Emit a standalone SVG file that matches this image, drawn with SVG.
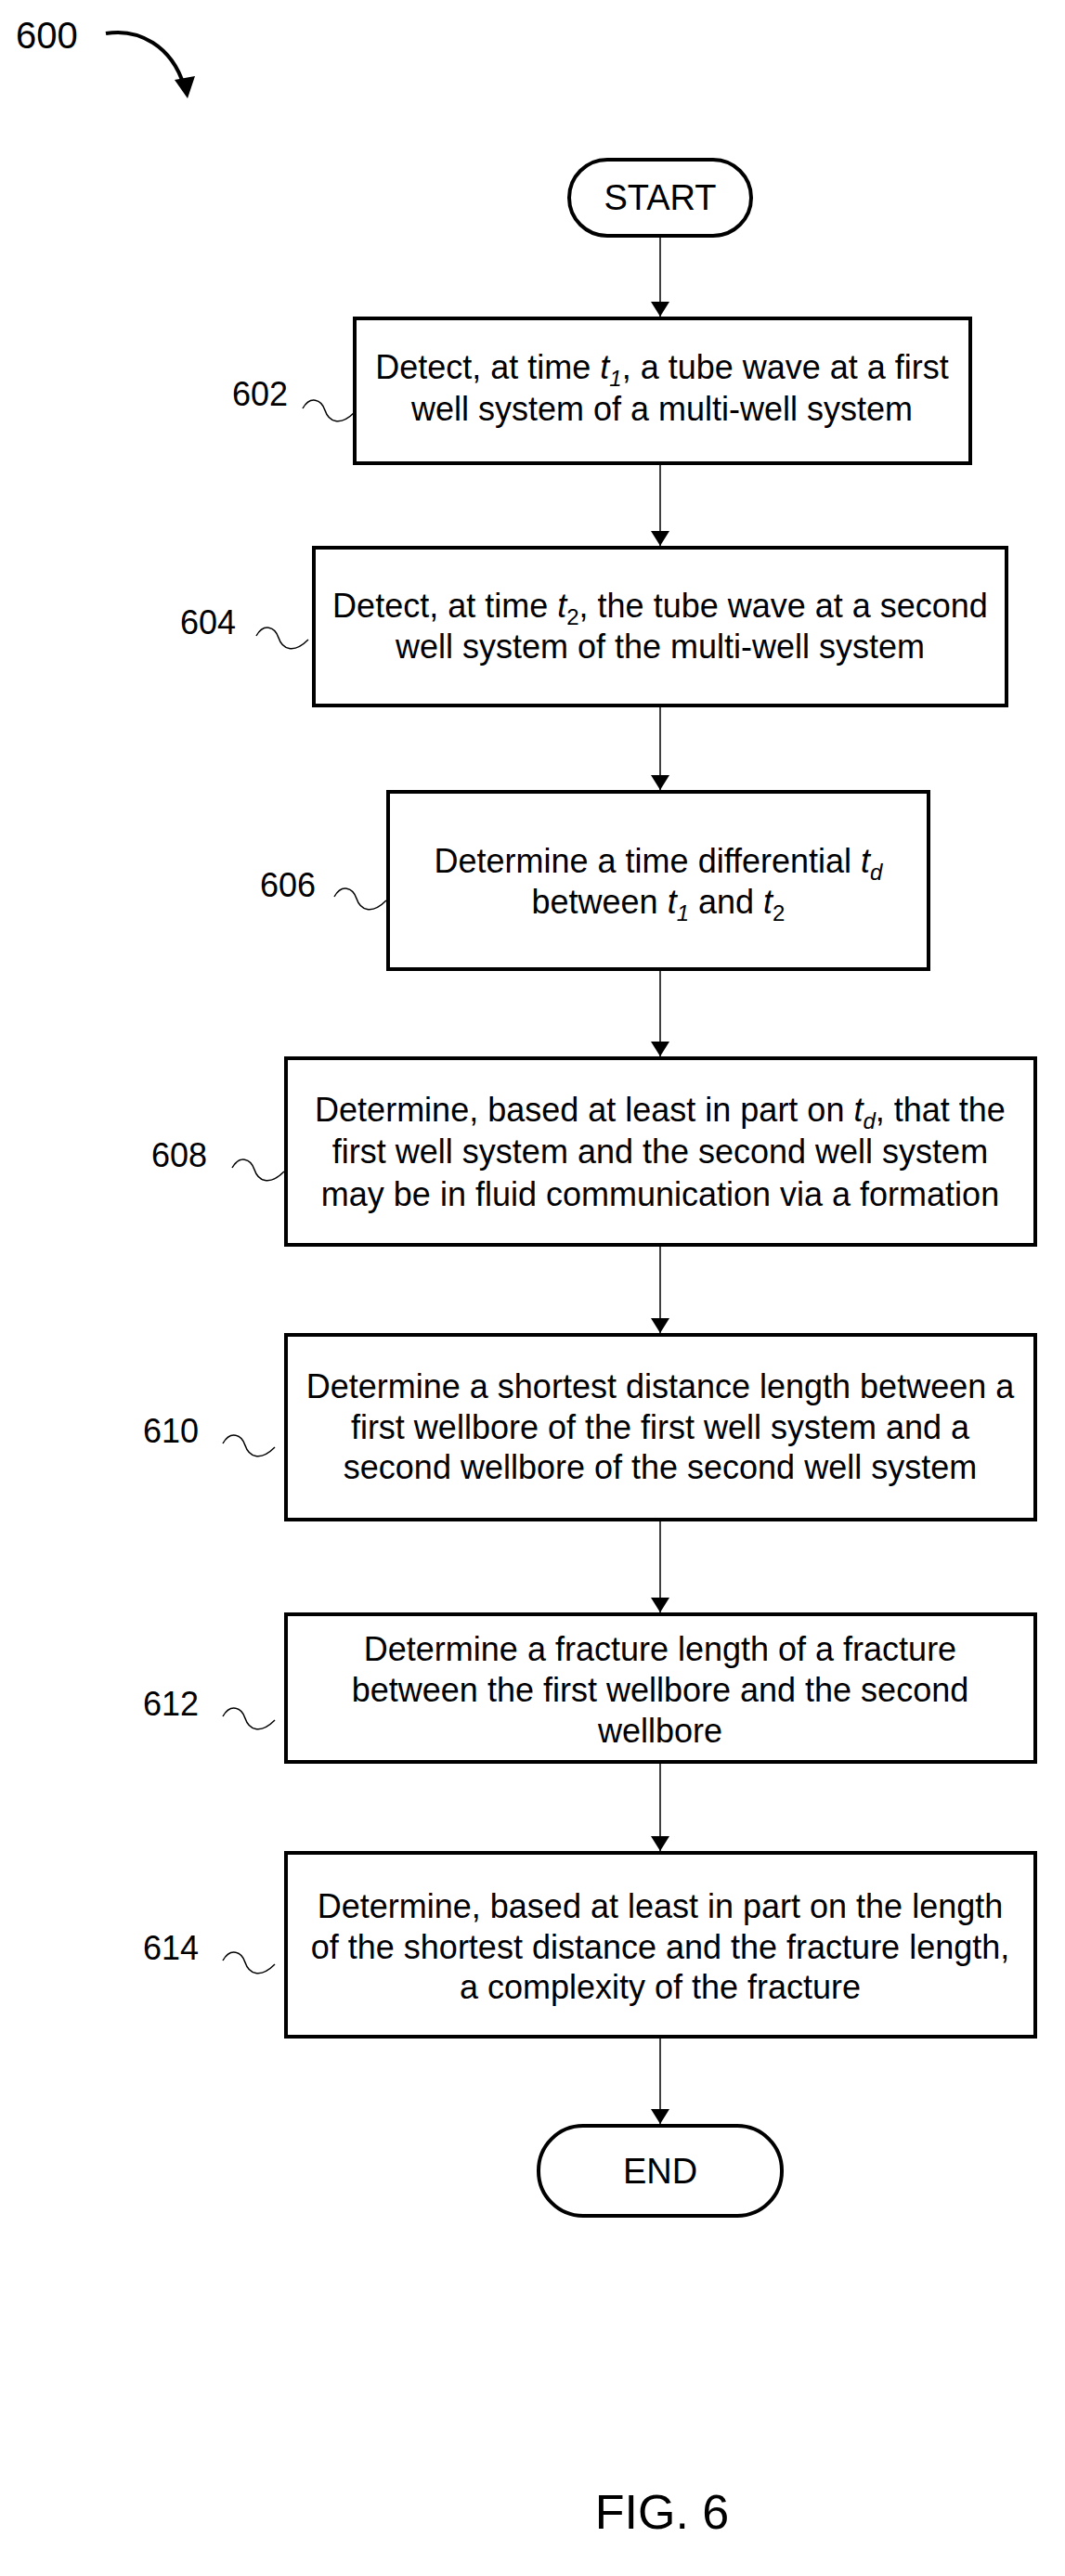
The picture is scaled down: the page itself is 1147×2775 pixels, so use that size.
<svg xmlns="http://www.w3.org/2000/svg" width="1147" height="2775" viewBox="0 0 1147 2775">
<style>
text{font-family:"Liberation Sans",Arial,sans-serif;fill:#000}
.t{font-size:36px;text-anchor:middle}
.lab{font-size:36px}
.box{fill:#fff;stroke:#000;stroke-width:4}
.sq{fill:none;stroke:#000;stroke-width:1.5}
.c{stroke:#000;stroke-width:1.5;fill:none;marker-end:url(#ah)}
.i{font-style:italic}
.s{font-size:24px}
</style>
<defs>
<marker id="ah" markerWidth="16" markerHeight="20" refX="16" refY="10" orient="auto" markerUnits="userSpaceOnUse"><path d="M0,0 L16,10 L0,20 Z" fill="#000"/></marker>
<path id="squig" d="M0,0 C8,-14 20,-10 24,2 S40,20 56,4"/>
</defs>
<g id="fig-label">
<text x="17" y="52" style="font-size:40px">600</text>
<path d="M114,36 C150,30 185,50 198,92" fill="none" stroke="#000" stroke-width="4"/>
<path d="M188,86 L202,106 L210,82 Z" fill="#000"/>
</g>
<g id="connectors">
<line class="c" x1="711" y1="254" x2="711" y2="341"/>
<line class="c" x1="711" y1="499" x2="711" y2="588"/>
<line class="c" x1="711" y1="760" x2="711" y2="851"/>
<line class="c" x1="711" y1="1044" x2="711" y2="1138"/>
<line class="c" x1="711" y1="1341" x2="711" y2="1436"/>
<line class="c" x1="711" y1="1637" x2="711" y2="1737"/>
<line class="c" x1="711" y1="1898" x2="711" y2="1994"/>
<line class="c" x1="711" y1="2194" x2="711" y2="2288"/>
</g>
<g id="start"><rect class="box" x="613" y="172" width="196" height="82" rx="41"/><text class="t" x="711" y="226" style="font-size:38px">START</text></g>
<g id="n602">
<rect class="box" x="382" y="343" width="663" height="156"/>
<text class="t" x="713" y="408">Detect, at time <tspan class="i">t</tspan><tspan class="s i" dy="8">1</tspan><tspan dy="-8">, a tube wave at a first</tspan></text>
<text class="t" x="713" y="453">well system of a multi-well system</text>
<text class="lab" x="250" y="437">602</text>
<use href="#squig" class="sq" transform="translate(326,440)"/>
</g>
<g id="n604">
<rect class="box" x="338" y="590" width="746" height="170"/>
<text class="t" x="711" y="665">Detect, at time <tspan class="i">t</tspan><tspan class="s" dy="8">2</tspan><tspan dy="-8">, the tube wave at a second</tspan></text>
<text class="t" x="711" y="709">well system of the multi-well system</text>
<text class="lab" x="194" y="683">604</text>
<use href="#squig" class="sq" transform="translate(276,685)"/>
</g>
<g id="n606">
<rect class="box" x="418" y="853" width="582" height="191"/>
<text class="t" x="709" y="940">Determine a time differential <tspan class="i">t</tspan><tspan class="s i" dy="8">d</tspan></text>
<text class="t" x="709" y="984">between <tspan class="i">t</tspan><tspan class="s i" dy="8">1</tspan><tspan dy="-8"> and </tspan><tspan class="i">t</tspan><tspan class="s" dy="8">2</tspan></text>
<text class="lab" x="280" y="966">606</text>
<use href="#squig" class="sq" transform="translate(360,966)"/>
</g>
<g id="n608">
<rect class="box" x="308" y="1140" width="807" height="201"/>
<text class="t" x="711" y="1208">Determine, based at least in part on <tspan class="i">t</tspan><tspan class="s i" dy="8">d</tspan><tspan dy="-8">, that the</tspan></text>
<text class="t" x="711" y="1253">first well system and the second well system</text>
<text class="t" x="711" y="1299">may be in fluid communication via a formation</text>
<text class="lab" x="163" y="1257">608</text>
<use href="#squig" class="sq" transform="translate(250,1258)"/>
</g>
<g id="n610">
<rect class="box" x="308" y="1438" width="807" height="199"/>
<text class="t" x="711" y="1506">Determine a shortest distance length between a</text>
<text class="t" x="711" y="1550">first wellbore of the first well system and a</text>
<text class="t" x="711" y="1593">second wellbore of the second well system</text>
<text class="lab" x="154" y="1554">610</text>
<use href="#squig" class="sq" transform="translate(240,1555)"/>
</g>
<g id="n612">
<rect class="box" x="308" y="1739" width="807" height="159"/>
<text class="t" x="711" y="1789">Determine a fracture length of a fracture</text>
<text class="t" x="711" y="1833">between the first wellbore and the second</text>
<text class="t" x="711" y="1877">wellbore</text>
<text class="lab" x="154" y="1848">612</text>
<use href="#squig" class="sq" transform="translate(240,1849)"/>
</g>
<g id="n614">
<rect class="box" x="308" y="1996" width="807" height="198"/>
<text class="t" x="711" y="2066">Determine, based at least in part on the length</text>
<text class="t" x="711" y="2110">of the shortest distance and the fracture length,</text>
<text class="t" x="711" y="2153">a complexity of the fracture</text>
<text class="lab" x="154" y="2111">614</text>
<use href="#squig" class="sq" transform="translate(240,2112)"/>
</g>
<g id="end"><rect class="box" x="580" y="2290" width="262" height="97" rx="48"/><text class="t" x="711" y="2352" style="font-size:38px">END</text></g>
<text x="713" y="2724" style="font-size:52px;text-anchor:middle">FIG. 6</text>
</svg>
